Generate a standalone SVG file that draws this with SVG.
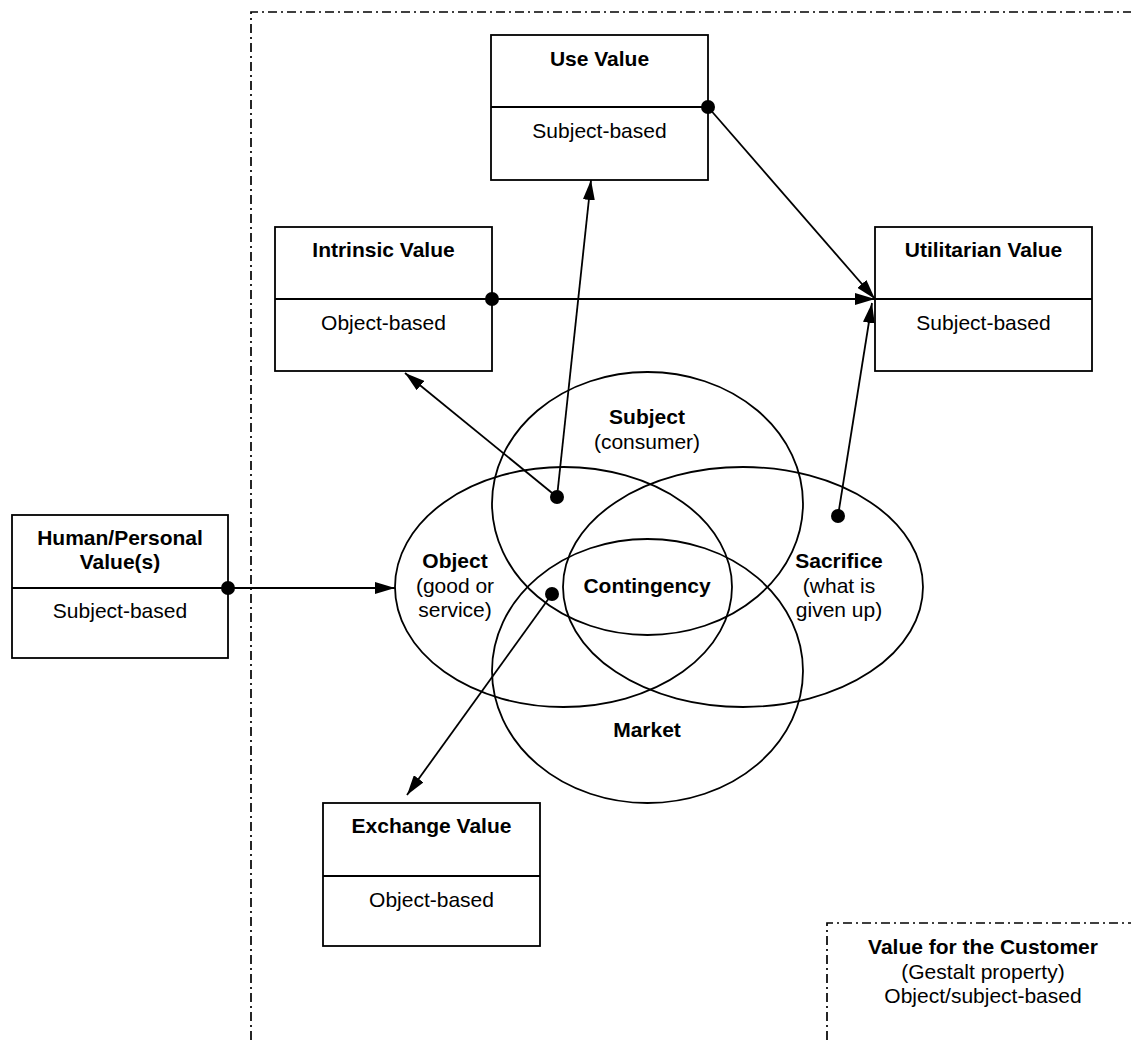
<svg xmlns="http://www.w3.org/2000/svg" width="1131" height="1040" viewBox="0 0 1131 1040">
  <style>
    .box { fill: #ffffff; stroke: #000000; stroke-width: 1.8; }
    .div { stroke: #000000; stroke-width: 1.8; }
    .ell { fill: none; stroke: #000000; stroke-width: 1.8; }
    .frame { fill: none; stroke: #000000; stroke-width: 1.7; stroke-dasharray: 9 4 2 4; }
    .edge { fill: none; stroke: #000000; stroke-width: 1.8; }
    .dot { fill: #000000; }
    text { font-family: "Liberation Sans", Arial, sans-serif; font-size: 21px; fill: #000000; text-anchor: middle; }
    .b { font-weight: bold; }
  </style>
  <defs>
    <marker id="arrow" viewBox="0 0 20 12" refX="20" refY="6" markerWidth="20" markerHeight="12" markerUnits="userSpaceOnUse" orient="auto">
      <path d="M0,0 L20,6 L0,12 Z" fill="#000000"/>
    </marker>
  </defs>

  <rect width="1131" height="1040" fill="#ffffff"/>

  <!-- dash-dot frames -->
  <path class="frame" d="M251,1040 V12 H1131"/>
  <path class="frame" d="M827,1040 V923 H1131"/>

  <!-- overlapping ellipses -->
  <g id="venn">
    <ellipse id="subject" class="ell" cx="647.5" cy="503.5" rx="155.5" ry="131.5"/>
    <ellipse id="object" class="ell" cx="563.5" cy="587" rx="168.5" ry="120"/>
    <ellipse id="sacrifice" class="ell" cx="743" cy="587" rx="180" ry="120"/>
    <ellipse id="market" class="ell" cx="647.5" cy="671" rx="155.5" ry="132"/>
    <text class="b" x="647" y="424">Subject</text>
    <text x="647" y="449">(consumer)</text>
    <text class="b" x="455" y="568">Object</text>
    <text x="455" y="593">(good or</text>
    <text x="455" y="617">service)</text>
    <text class="b" x="647" y="593">Contingency</text>
    <text class="b" x="839" y="568">Sacrifice</text>
    <text x="839" y="593">(what is</text>
    <text x="839" y="617">given up)</text>
    <text class="b" x="647" y="737">Market</text>
  </g>

  <!-- boxes -->
  <g id="use-value">
    <rect class="box" x="491" y="35" width="217" height="145"/>
    <line class="div" x1="491" y1="107" x2="708" y2="107"/>
    <text class="b" x="599.5" y="66">Use Value</text>
    <text x="599.5" y="138">Subject-based</text>
  </g>
  <g id="intrinsic-value">
    <rect class="box" x="275" y="227" width="217" height="144"/>
    <line class="div" x1="275" y1="299" x2="492" y2="299"/>
    <text class="b" x="383.5" y="257">Intrinsic Value</text>
    <text x="383.5" y="330">Object-based</text>
  </g>
  <g id="utilitarian-value">
    <rect class="box" x="875" y="227" width="217" height="144"/>
    <line class="div" x1="875" y1="299" x2="1092" y2="299"/>
    <text class="b" x="983.5" y="257">Utilitarian Value</text>
    <text x="983.5" y="330">Subject-based</text>
  </g>
  <g id="human-value">
    <rect class="box" x="12" y="515" width="216" height="143"/>
    <line class="div" x1="12" y1="588" x2="228" y2="588"/>
    <text class="b" x="120" y="545">Human/Personal</text>
    <text class="b" x="120" y="569">Value(s)</text>
    <text x="120" y="618">Subject-based</text>
  </g>
  <g id="exchange-value">
    <rect class="box" x="323" y="803" width="217" height="143"/>
    <line class="div" x1="323" y1="876" x2="540" y2="876"/>
    <text class="b" x="431.5" y="833">Exchange Value</text>
    <text x="431.5" y="907">Object-based</text>
  </g>
  <g id="customer-value">
    <text class="b" x="983" y="954">Value for the Customer</text>
    <text x="983" y="979">(Gestalt property)</text>
    <text x="983" y="1003">Object/subject-based</text>
  </g>

  <!-- connectors -->
  <g id="connectors">
    <line class="edge" x1="708" y1="107" x2="875" y2="299" marker-end="url(#arrow)"/>
    <line class="edge" x1="492" y1="299" x2="875" y2="299" marker-end="url(#arrow)"/>
    <line class="edge" x1="838" y1="516" x2="872" y2="303" marker-end="url(#arrow)"/>
    <line class="edge" x1="557" y1="497" x2="591" y2="180" marker-end="url(#arrow)"/>
    <line class="edge" x1="557" y1="497" x2="405" y2="373" marker-end="url(#arrow)"/>
    <line class="edge" x1="228" y1="588" x2="395" y2="588" marker-end="url(#arrow)"/>
    <line class="edge" x1="552" y1="594" x2="407" y2="795" marker-end="url(#arrow)"/>
    <circle class="dot" cx="708" cy="107" r="7"/>
    <circle class="dot" cx="492" cy="299" r="7"/>
    <circle class="dot" cx="838" cy="516" r="7"/>
    <circle class="dot" cx="557" cy="497" r="7"/>
    <circle class="dot" cx="228" cy="588" r="7"/>
    <circle class="dot" cx="552" cy="594" r="7"/>
  </g>
</svg>
